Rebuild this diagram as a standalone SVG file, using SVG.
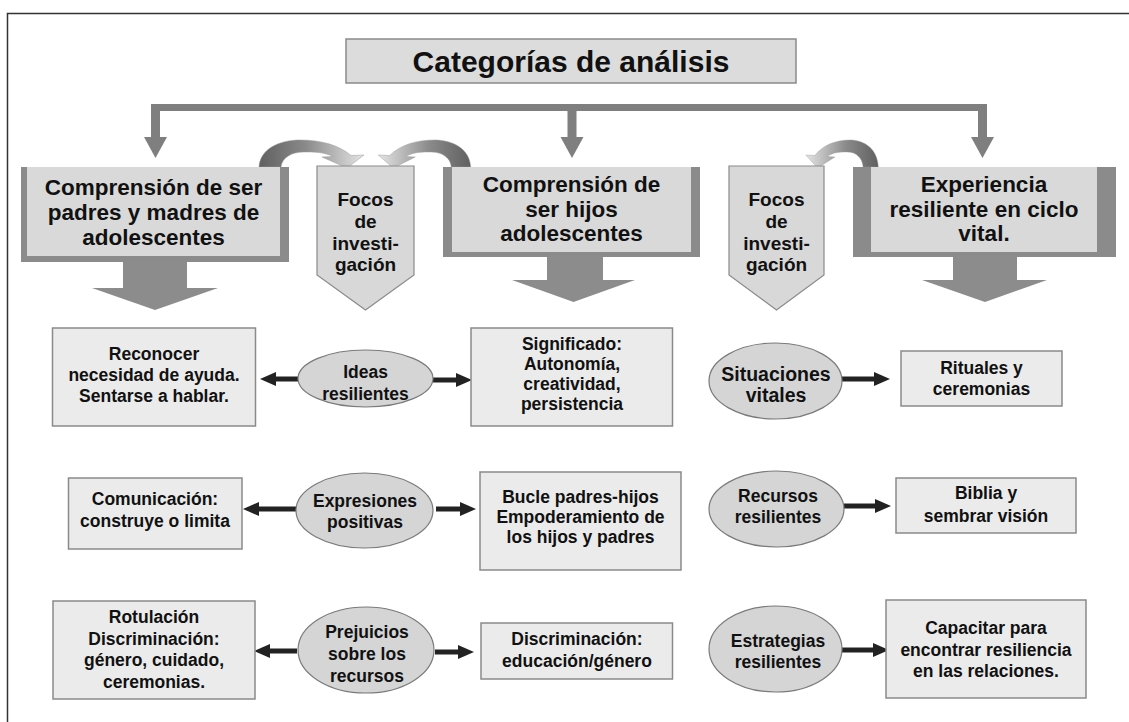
<svg xmlns="http://www.w3.org/2000/svg" width="1129" height="722" viewBox="0 0 1129 722">
<style>
.t{font-family:"Liberation Sans",Arial,Helvetica,sans-serif;font-weight:bold;fill:#111;text-anchor:middle}
.title{font-size:30px}
.h{font-size:22.5px}
.f{font-size:19px}
.b{font-size:17.5px}
.sv{font-size:19.5px}
.box{fill:#ebebeb;stroke:#8a8a8a;stroke-width:1.5}
.ell{fill:#d5d5d5;stroke:#7a7a7a;stroke-width:1.2}
.hd{fill:#8b8b8b}
.hl{fill:#d9d9d9}
.foc{fill:#d8d8d8;stroke:#8a8a8a;stroke-width:1.2}
.dn{fill:#8c8c8c}
.gb{fill:#7f7f7f}
.conn{stroke:#222;stroke-width:5;fill:none;marker-end:url(#ah)}
.frame{stroke:#333;stroke-width:1.5;fill:none}
</style>
<defs>
<marker id="ah" markerUnits="userSpaceOnUse" markerWidth="16" markerHeight="14" refX="0" refY="7" orient="auto">
<path d="M0,0 L16,7 L0,14 Z" fill="#222"/>
</marker>
<linearGradient id="cg" gradientUnits="userSpaceOnUse" x1="258" y1="0" x2="364" y2="0">
<stop offset="0" stop-color="#5f5f5f"/>
<stop offset="0.45" stop-color="#8a8a8a"/>
<stop offset="1" stop-color="#e4e4e4"/>
</linearGradient>
<path id="curve" fill="url(#cg)" stroke="#9a9a9a" stroke-width="0.5" d="M259,167 C260,149 279,140 300,140 C321,140 339,145 351,155.5 L364,155 L347,168 L322,157 L333,156.5 C324,152 314,152 304,152 C291,152 282,158 281,167 Z"/>
</defs>
<path class="frame" d="M7.5,722 L7.5,13.5 L1129,13.5"/>
<g id="title">
<rect x="346" y="39" width="450" height="44" fill="#dcdcdc" stroke="#8a8a8a" stroke-width="1.5"/>
<text class="t title" x="571" y="71.5">Categorías de análisis</text>
</g>
<g id="connectors">
<rect class="gb" x="151" y="104" width="836" height="7"/>
<rect class="gb" x="151" y="104" width="9" height="34"/>
<polygon class="gb" points="144,137 167,137 155.5,158"/>
<rect class="gb" x="567.5" y="104" width="9" height="34"/>
<polygon class="gb" points="560.5,137 583.5,137 572,158"/>
<rect class="gb" x="978" y="104" width="9" height="34"/>
<polygon class="gb" points="971,137 994,137 982.5,158"/>
<use href="#curve"/>
<use href="#curve" transform="matrix(-0.88,0,0,1,698.6,0)"/>
<use href="#curve" transform="matrix(-0.69,0,0,1,1057,0)"/>
<polygon class="dn" points="123,261 187,261 187,288 218,288 155,310 92,288 123,288"/>
<polygon class="dn" points="547,256 603,256 603,280 635,280 573.5,302 512,280 547,280"/>
<polygon class="dn" points="953,256 1017,256 1017,280 1047,280 985,302 922,280 953,280"/>
<line class="conn" x1="298" y1="379" x2="276" y2="379"/>
<line class="conn" x1="433" y1="380" x2="456" y2="380"/>
<line class="conn" x1="842" y1="379" x2="874" y2="379"/>
<line class="conn" x1="296" y1="509" x2="259" y2="509"/>
<line class="conn" x1="436" y1="509" x2="460" y2="509"/>
<line class="conn" x1="844" y1="506" x2="875" y2="506"/>
<line class="conn" x1="297" y1="651" x2="270" y2="651"/>
<line class="conn" x1="435" y1="652" x2="458" y2="652"/>
<line class="conn" x1="842" y1="650" x2="873" y2="650"/>
</g>
<g id="n-padres">
<rect class="hd" x="21" y="167" width="268" height="95"/>
<rect class="hl" x="27" y="167" width="253" height="89"/>
<text class="t h" x="153.5" y="195">Comprensión de ser</text>
<text class="t h" x="153.5" y="220">padres y madres de</text>
<text class="t h" x="153.5" y="245">adolescentes</text>
</g>
<g id="n-focos1">
<polygon class="foc" points="317,166 414,166 414,275 365.5,310 317,275"/>
<text class="t f" x="365.5" y="206">Focos</text>
<text class="t f" x="365.5" y="228">de</text>
<text class="t f" x="365.5" y="250">investi-</text>
<text class="t f" x="365.5" y="271">gación</text>
</g>
<g id="n-hijos">
<rect class="hd" x="443" y="167" width="257" height="90"/>
<rect class="hl" x="452" y="167" width="239" height="85"/>
<text class="t h" x="571.5" y="192">Comprensión de</text>
<text class="t h" x="571.5" y="216.5">ser hijos</text>
<text class="t h" x="571.5" y="240.5">adolescentes</text>
</g>
<g id="n-focos2">
<polygon class="foc" points="729,166 824,166 824,275 776.5,310 729,275"/>
<text class="t f" x="776.5" y="206">Focos</text>
<text class="t f" x="776.5" y="228">de</text>
<text class="t f" x="776.5" y="250">investi-</text>
<text class="t f" x="776.5" y="271">gación</text>
</g>
<g id="n-experiencia">
<rect class="hd" x="853" y="167" width="263" height="90"/>
<rect class="hl" x="871" y="167" width="226" height="85"/>
<text class="t h" x="984" y="192">Experiencia</text>
<text class="t h" x="984" y="216.5">resiliente en ciclo</text>
<text class="t h" x="984" y="240.5">vital.</text>
</g>
<g id="n-reconocer">
<rect class="box" x="52.5" y="328" width="203" height="98"/>
<text class="t b" x="154" y="360">Reconocer</text>
<text class="t b" x="154" y="381">necesidad de ayuda.</text>
<text class="t b" x="154" y="402">Sentarse a hablar.</text>
</g>
<g id="n-ideas">
<ellipse class="ell" cx="365.5" cy="378.5" rx="67.5" ry="28.5"/>
<text class="t b" x="365.5" y="378">Ideas</text>
<text class="t b" x="365.5" y="400">resilientes</text>
</g>
<g id="n-significado">
<rect class="box" x="471" y="328" width="201.5" height="98"/>
<text class="t b" x="572" y="350">Significado:</text>
<text class="t b" x="572" y="370">Autonomía,</text>
<text class="t b" x="572" y="390">creatividad,</text>
<text class="t b" x="572" y="410">persistencia</text>
</g>
<g id="n-situaciones">
<ellipse class="ell" cx="775.5" cy="381" rx="66.5" ry="38"/>
<text class="t sv" x="776" y="381">Situaciones</text>
<text class="t sv" x="776" y="402">vitales</text>
</g>
<g id="n-rituales">
<rect class="box" x="901" y="351" width="161" height="55"/>
<text class="t b" x="981.5" y="374">Rituales y</text>
<text class="t b" x="981.5" y="395">ceremonias</text>
</g>
<g id="n-comunicacion">
<rect class="box" x="68.5" y="478" width="173.5" height="71"/>
<text class="t b" x="155" y="505">Comunicación:</text>
<text class="t b" x="155" y="527">construye o limita</text>
</g>
<g id="n-expresiones">
<ellipse class="ell" cx="364.5" cy="510.5" rx="68.5" ry="37.5"/>
<text class="t b" x="365" y="507">Expresiones</text>
<text class="t b" x="365" y="528">positivas</text>
</g>
<g id="n-bucle">
<rect class="box" x="480" y="472" width="201" height="98"/>
<text class="t b" x="580.5" y="503">Bucle padres-hijos</text>
<text class="t b" x="580.5" y="523">Empoderamiento de</text>
<text class="t b" x="580.5" y="543">los hijos y padres</text>
</g>
<g id="n-recursos">
<ellipse class="ell" cx="776.5" cy="509" rx="67.5" ry="38"/>
<text class="t b" x="778" y="502">Recursos</text>
<text class="t b" x="778" y="523">resilientes</text>
</g>
<g id="n-biblia">
<rect class="box" x="896" y="478" width="180" height="55"/>
<text class="t b" x="986" y="499">Biblia y</text>
<text class="t b" x="986" y="522">sembrar visión</text>
</g>
<g id="n-rotulacion">
<rect class="box" x="53" y="601" width="202" height="98"/>
<text class="t b" x="154" y="623">Rotulación</text>
<text class="t b" x="154" y="645">Discriminación:</text>
<text class="t b" x="154" y="666">género, cuidado,</text>
<text class="t b" x="154" y="688">ceremonias.</text>
</g>
<g id="n-prejuicios">
<ellipse class="ell" cx="366" cy="650" rx="68" ry="43"/>
<text class="t b" x="367" y="638">Prejuicios</text>
<text class="t b" x="367" y="660">sobre los</text>
<text class="t b" x="367" y="682">recursos</text>
</g>
<g id="n-discriminacion">
<rect class="box" x="481" y="623" width="191.5" height="56"/>
<text class="t b" x="577" y="645">Discriminación:</text>
<text class="t b" x="577" y="667">educación/género</text>
</g>
<g id="n-estrategias">
<ellipse class="ell" cx="775.5" cy="649" rx="66.5" ry="43"/>
<text class="t b" x="778" y="647">Estrategias</text>
<text class="t b" x="778" y="668">resilientes</text>
</g>
<g id="n-capacitar">
<rect class="box" x="886" y="600" width="200" height="98"/>
<text class="t b" x="986" y="634">Capacitar para</text>
<text class="t b" x="986" y="656">encontrar resiliencia</text>
<text class="t b" x="986" y="677">en las relaciones.</text>
</g>
</svg>
